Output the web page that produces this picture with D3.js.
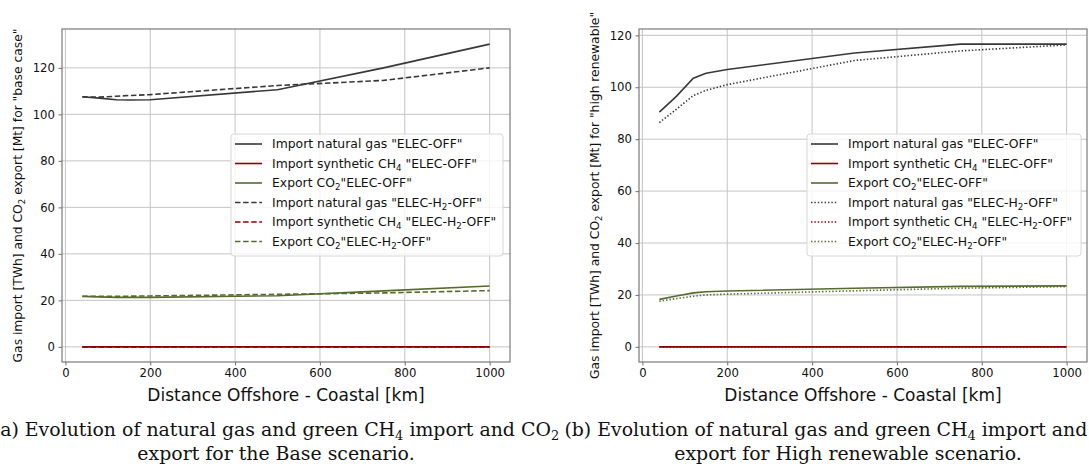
<!DOCTYPE html>

<head>
    <meta charset="utf-8">
    <title>Gas import and CO2 export</title>
    <script type="text/javascript" src="https://d3js.org/d3.v7.min.js"></script>
    <style>
        body { margin: 0; background: #fff; }
        svg { display: block; }
        text { font-family: "DejaVu Sans", sans-serif; fill: #111; }
        .caption { font-family: "DejaVu Serif", serif; }
    </style>
</head>

<body>
    <div id="container"></div>
    <script>

        //------------------------1. DATA------------------------//
        var distances = [40, 80, 120, 150, 200, 500, 750, 1000];

        // base case
        var baseGasElec = [107.6, 107.0, 106.3, 106.2, 106.3, 110.6, 120.0, 130.2];
        var baseCh4Elec = [0, 0, 0, 0, 0, 0, 0, 0];
        var baseCo2Elec = [21.7, 21.5, 21.3, 21.3, 21.3, 22.0, 24.1, 26.2];
        var baseGasH2 = [107.5, 107.4, 107.8, 108.1, 108.5, 112.4, 114.6, 120.0];
        var baseCh4H2 = [0, 0, 0, 0, 0, 0, 0, 0];
        var baseCo2H2 = [21.8, 21.7, 21.7, 21.8, 21.9, 22.6, 23.2, 24.2];

        // high renewable
        var highGasElec = [90.4, 96.5, 103.5, 105.4, 106.8, 113.2, 116.6, 116.6];
        var highCh4Elec = [0, 0, 0, 0, 0, 0, 0, 0];
        var highCo2Elec = [18.3, 19.6, 20.8, 21.2, 21.5, 22.6, 23.3, 23.5];
        var highGasH2 = [86.4, 91.5, 96.8, 98.8, 101.0, 110.3, 114.0, 116.3];
        var highCh4H2 = [0, 0, 0, 0, 0, 0, 0, 0];
        var highCo2H2 = [17.6, 18.6, 19.5, 20.0, 20.3, 21.6, 22.6, 23.2];

        var xTicks = [0, 200, 400, 600, 800, 1000];
        var yTicks = [0, 20, 40, 60, 80, 100, 120];

        var legendLabels = [
            'Import natural gas "ELEC-OFF"',
            'Import synthetic CH_4 "ELEC-OFF"',
            'Export CO_2"ELEC-OFF"',
            'Import natural gas "ELEC-H_2-OFF"',
            'Import synthetic CH_4 "ELEC-H_2-OFF"',
            'Export CO_2"ELEC-H_2-OFF"'
        ];
        var xLabel = "Distance Offshore - Coastal [km]";
        var baseYLabel = 'Gas import [TWh] and CO_2 export [Mt] for "base case"';
        var highYLabel = 'Gas import [TWh] and CO_2 export [Mt] for "high renewable"';
        var baseCaption = ["(a) Evolution of natural gas and green CH_4 import and CO_2", "export for the Base scenario."];
        var highCaption = ["(b) Evolution of natural gas and green CH_4 import and CO_2", "export for High renewable scenario."];

        //------------------------2. STYLE------------------------//
        var colors = ["#383838", "#8b0000", "#556b2f"];
        var W = 1089, H = 466;

        var svg = d3.select("#container").append("svg")
            .attr("width", W).attr("height", H);

        // text with _x subscripts, shift in px
        function richText(sel, str, subSize, shift) {
            var parts = str.split(/_(\d)/);
            var back = false;
            parts.forEach(function (p, i) {
                if (p === "") return;
                var t = sel.append("tspan").text(p);
                if (i % 2 == 1) {
                    t.attr("dy", shift).style("font-size", subSize);
                    back = true;
                } else if (back) {
                    t.attr("dy", -shift);
                    back = false;
                }
            });
        }

        //------------------------3. DRAW PANEL------------------------//
        function drawPanel(cfg) {
            var g = svg.append("g");
            var span = distances[distances.length - 1] - distances[0];
            var xScale = d3.scaleLinear()
                .domain([distances[0] - 0.05 * span, distances[distances.length - 1] + 0.05 * span])
                .range([cfg.x0, cfg.x1]);
            var maxY = d3.max(cfg.series, s => d3.max(s.values));
            var minY = d3.min(cfg.series, s => d3.min(s.values));
            var yScale = d3.scaleLinear()
                .domain([minY - 0.05 * (maxY - minY), maxY + 0.05 * (maxY - minY)])
                .range([cfg.y1, cfg.y0]);

            // grids
            g.append("g")
                .attr("stroke", "#c4c4c4")
                .attr("stroke-width", 1)
                .call(gg => gg.selectAll(".vg").data(xTicks).join("line")
                    .attr("x1", d => xScale(d)).attr("x2", d => xScale(d))
                    .attr("y1", cfg.y0).attr("y2", cfg.y1))
                .call(gg => gg.selectAll(".hg").data(yTicks).join("line")
                    .attr("y1", d => yScale(d)).attr("y2", d => yScale(d))
                    .attr("x1", cfg.x0).attr("x2", cfg.x1));

            // lines
            var line = d3.line()
                .x((d, i) => xScale(distances[i]))
                .y(d => yScale(d));
            g.selectAll(".serie")
                .data(cfg.series)
                .join("path")
                .attr("fill", "none")
                .attr("stroke", d => d.color)
                .attr("stroke-width", 1.6)
                .attr("stroke-dasharray", d => d.dash)
                .attr("d", d => line(d.values));

            // spines
            g.append("rect")
                .attr("x", cfg.x0).attr("y", cfg.y0)
                .attr("width", cfg.x1 - cfg.x0).attr("height", cfg.y1 - cfg.y0)
                .attr("fill", "none").attr("stroke", "#7a7a7a").attr("stroke-width", 1.2);

            // axes
            var xaxis = d3.axisBottom(xScale).tickValues(xTicks).tickFormat(d3.format("d"))
                .tickSize(3.5).tickPadding(3);
            var yaxis = d3.axisLeft(yScale).tickValues(yTicks).tickFormat(d3.format("d"))
                .tickSize(3.5).tickPadding(3.5);
            var gx = g.append("g").attr("transform", "translate(0," + cfg.y1 + ")").call(xaxis);
            var gy = g.append("g").attr("transform", "translate(" + cfg.x0 + ",0)").call(yaxis);
            [gx, gy].forEach(function (a) {
                a.select(".domain").remove();
                a.selectAll(".tick line").attr("stroke", "#7a7a7a").attr("stroke-width", 1.1);
                a.selectAll(".tick text").style("font-family", "DejaVu Sans")
                    .style("font-size", "11.7px").attr("fill", "#111");
            });

            // axis labels
            g.append("text")
                .attr("x", (cfg.x0 + cfg.x1) / 2)
                .attr("y", cfg.y1 + 39)
                .attr("text-anchor", "middle")
                .style("font-size", "17px")
                .text(xLabel);

            var yl = g.append("text")
                .attr("transform", "translate(" + (cfg.x0 - 40) + "," + ((cfg.y0 + cfg.y1) / 2) + ") rotate(-90)")
                .attr("text-anchor", "middle")
                .style("font-size", "12.3px");
            richText(yl, cfg.yLabel, "8.6px", 3);

            // legend
            var lg = g.append("g").attr("transform", "translate(" + cfg.lx + "," + cfg.ly + ")");
            lg.append("rect")
                .attr("width", cfg.lw).attr("height", 122)
                .attr("rx", 3)
                .attr("fill", "#fff").attr("fill-opacity", 0.8)
                .attr("stroke", "#d8d8d8");
            var items = lg.selectAll(".legend")
                .data(cfg.series)
                .join("g")
                .attr("transform", (d, i) => "translate(0," + (10 + i * 19.5) + ")");
            items.append("line")
                .attr("x1", 4).attr("x2", 31)
                .attr("stroke", d => d.color)
                .attr("stroke-width", 1.6)
                .attr("stroke-dasharray", d => d.dash);
            items.append("text")
                .attr("x", 41)
                .attr("dy", "0.36em")
                .style("font-size", "12.4px")
                .each(function (d, i) { richText(d3.select(this), legendLabels[i], "8.7px", 3); });

            // caption
            cfg.caption.forEach(function (c, i) {
                var t = g.append("text")
                    .attr("class", "caption")
                    .attr("x", cfg.cx)
                    .attr("y", 436 + i * 24)
                    .attr("text-anchor", "middle")
                    .style("font-size", "18.9px");
                richText(t, c, "13px", 4);
            });
        }

        var dashStyle = "5.5,2.6";
        var dotStyle = "1.4,2";

        drawPanel({
            x0: 62, x1: 510, y0: 29, y1: 362,
            lx: 231, ly: 134, lw: 272,
            cx: 276,
            yLabel: baseYLabel,
            caption: baseCaption,
            series: [
                { values: baseGasElec, color: colors[0], dash: null },
                { values: baseCh4Elec, color: colors[1], dash: null },
                { values: baseCo2Elec, color: colors[2], dash: null },
                { values: baseGasH2, color: colors[0], dash: dashStyle },
                { values: baseCh4H2, color: colors[1], dash: dashStyle },
                { values: baseCo2H2, color: colors[2], dash: dashStyle }
            ]
        });

        drawPanel({
            x0: 639, x1: 1087, y0: 29, y1: 362,
            lx: 807, ly: 134, lw: 274,
            cx: 848,
            yLabel: highYLabel,
            caption: highCaption,
            series: [
                { values: highGasElec, color: colors[0], dash: null },
                { values: highCh4Elec, color: colors[1], dash: null },
                { values: highCo2Elec, color: colors[2], dash: null },
                { values: highGasH2, color: colors[0], dash: dotStyle },
                { values: highCh4H2, color: colors[1], dash: dotStyle },
                { values: highCo2H2, color: colors[2], dash: dotStyle }
            ]
        });
    </script>
</body>
